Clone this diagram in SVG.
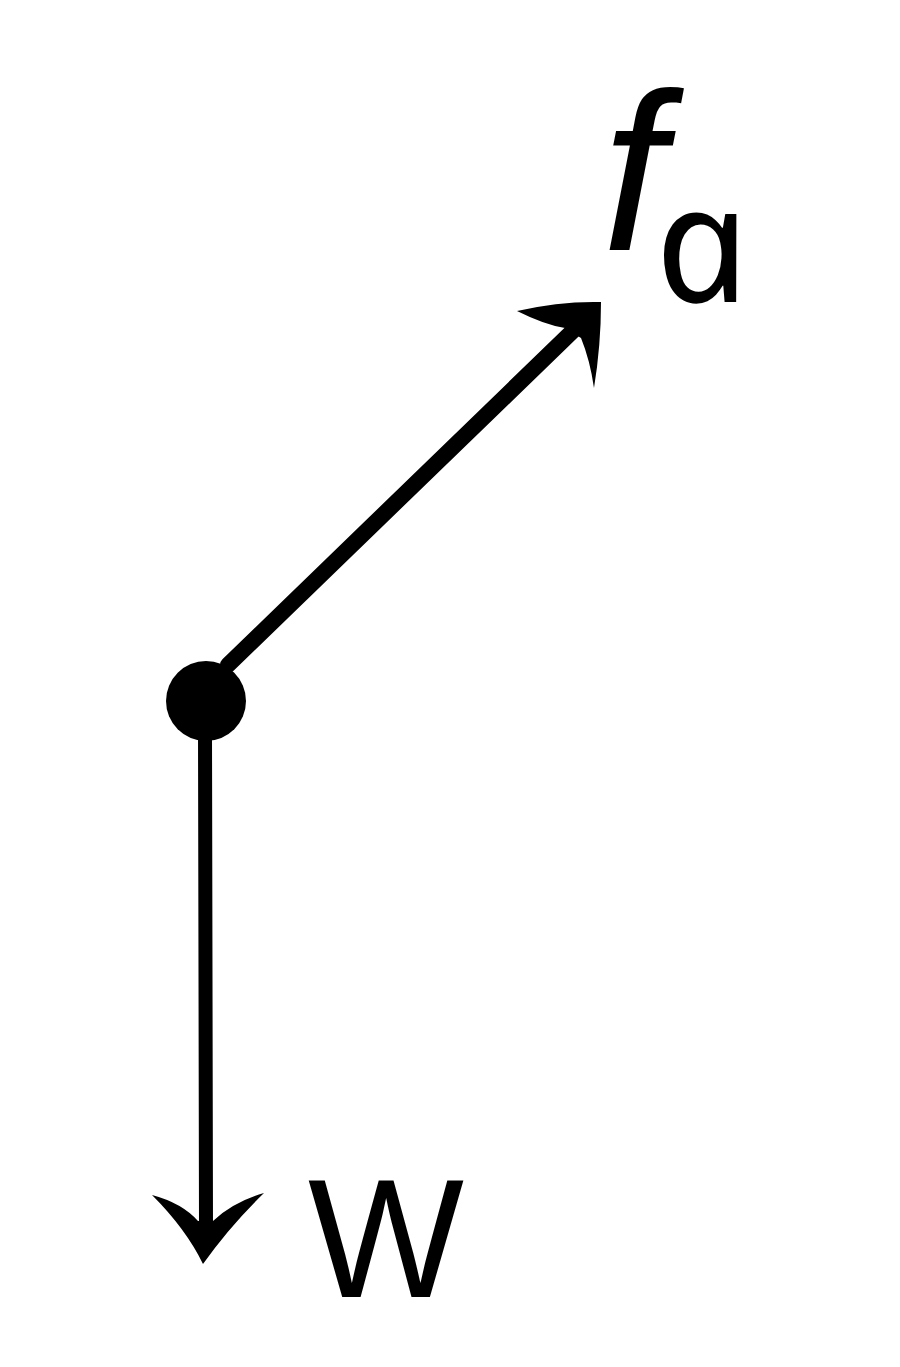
<svg xmlns="http://www.w3.org/2000/svg" width="900" height="1367" viewBox="0 0 900 1367">
<style>
.ln{stroke:#000;stroke-linecap:round;fill:none}
.hd{fill:#000;stroke:none}
.lb{font-family:"Liberation Sans",Arial,sans-serif;fill:#000}
</style>
<rect width="900" height="1367" fill="#fff"/>
<g id="connectors">
<line class="ln" stroke-width="16" x1="228" y1="665" x2="580" y2="324"/>
<path class="hd" d="M601,302 Q560,301 517,311 Q545,325 565,328 L581,338 Q590,360 594,388 Q601,345 601,302 Z"/>
<line class="ln" stroke-width="14" x1="205" y1="730" x2="206" y2="1228"/>
<path class="hd" d="M203,1264 Q186,1229 152,1195 Q182,1203 198,1221 L213,1221 Q233,1202 264,1193 Q230,1226 203,1264 Z"/>
</g>
<g id="point">
<circle cx="206" cy="701" r="40" fill="#000"/>
</g>
<g id="label-fa">
<text class="lb" x="602" y="250" font-size="225" font-style="italic">f</text>
<text transform="translate(664,302) skewX(12)" x="0" y="0" font-family="'Noto Sans','Open Sans',sans-serif" font-style="italic" font-size="164" textLength="94" lengthAdjust="spacingAndGlyphs" fill="#000">a</text>
</g>
<g id="label-W">
<text class="lb" x="308" y="1297" font-size="168" textLength="156" lengthAdjust="spacingAndGlyphs">W</text>
</g>
</svg>
